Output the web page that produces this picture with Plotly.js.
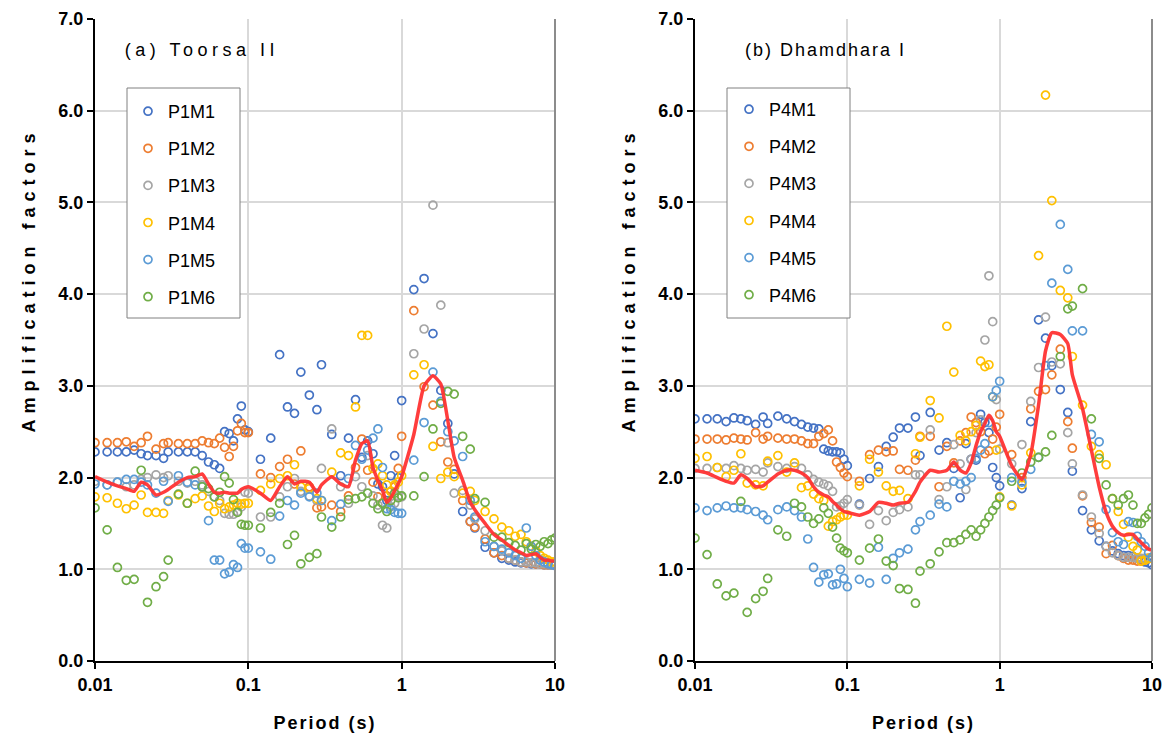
<!DOCTYPE html>
<html>
<head>
<meta charset="utf-8">
<script src="https://cdn.plot.ly/plotly-3.0.1.min.js"></script>
<style>
  html, body { margin: 0; padding: 0; background: #ffffff; }
  #chart { width: 1174px; height: 744px; }
</style>
</head>
<body>
<div id="chart"></div>
<script>
// ---------- data ----------
const periods = [
  0.01,0.012,0.014,0.016,0.018,0.02,0.022,0.025,0.028,0.03,0.035,0.04,0.045,0.05,0.055,0.06,0.065,0.07,0.075,0.08,0.085,0.09,0.095,
  0.1,0.12,0.14,0.16,0.18,0.2,0.22,0.25,0.28,0.3,0.35,0.4,0.45,0.5,0.55,0.6,0.65,0.7,0.75,0.8,0.85,0.9,0.95,
  1,1.2,1.4,1.6,1.8,2,2.2,2.5,2.8,3,3.5,4,4.5,5,5.5,6,6.5,7,7.5,8,8.5,9,9.5,10
];

// Panel (a) Toorsa II
const seriesNamesA = ["P1M1","P1M2","P1M3","P1M4","P1M5","P1M6"];
const P1M1 = [2.28,2.28,2.28,2.28,2.30,2.26,2.24,2.24,2.21,2.28,
              2.28,2.28,2.28,2.24,2.17,2.14,2.10,2.50,2.48,2.40,
              2.64,2.78,2.52,2.50,2.20,2.43,3.34,2.77,2.70,3.15,
              2.90,2.74,3.23,2.47,2.02,2.43,2.85,2.22,2.40,2.26,
              1.93,1.90,1.75,2.02,2.24,2.00,2.84,4.05,4.17,3.57,
              2.95,2.59,2.04,1.63,1.52,1.45,1.24,1.18,1.12,1.10,
              1.08,1.07,1.07,1.06,1.06,1.06,1.05,1.05,1.05,1.05];
const P1M2 = [2.38,2.38,2.38,2.39,2.34,2.38,2.45,2.31,2.37,2.38,
              2.37,2.37,2.37,2.40,2.38,2.37,2.43,2.33,2.23,2.34,
              2.51,2.59,2.49,2.49,2.04,2.00,2.12,2.20,1.93,2.29,
              1.90,1.67,1.68,1.70,1.63,1.80,2.11,2.42,2.08,1.95,
              1.79,1.72,1.80,1.85,1.90,2.10,2.45,3.82,2.99,2.79,
              2.39,2.17,2.09,1.75,1.52,1.46,1.33,1.18,1.15,1.12,
              1.10,1.08,1.07,1.07,1.06,1.06,1.05,1.05,1.05,1.05];
const P1M3 = [1.96,1.92,1.95,1.90,1.92,1.98,2.00,2.03,2.00,2.02,
              1.96,1.94,1.96,1.92,1.85,1.79,1.75,1.61,1.60,1.60,
              1.63,1.68,1.84,1.83,1.57,1.57,1.79,1.90,1.99,1.85,
              1.80,1.75,2.10,2.53,1.90,1.72,2.01,1.90,2.24,1.80,
              1.70,1.48,1.45,1.68,1.72,1.80,1.79,3.35,3.62,4.97,
              3.88,2.38,1.83,1.86,1.70,1.55,1.42,1.25,1.20,1.12,
              1.10,1.08,1.08,1.07,1.07,1.06,1.06,1.06,1.05,1.05];
const P1M4 = [1.79,1.78,1.72,1.66,1.70,1.81,1.62,1.62,1.61,1.75,
              1.81,1.72,1.77,1.80,1.69,1.63,1.72,1.66,1.68,1.70,
              1.72,1.71,1.72,1.72,1.86,1.93,1.99,2.02,2.14,1.90,
              1.88,1.77,1.75,2.06,2.27,2.24,2.77,3.55,3.55,2.10,
              2.15,2.02,1.92,1.85,1.92,1.95,2.02,3.12,3.23,2.34,
              1.99,2.06,2.01,1.83,1.85,1.75,1.63,1.55,1.46,1.42,
              1.36,1.38,1.30,1.25,1.20,1.15,1.12,1.10,1.08,1.08];
const P1M5 = [1.93,1.92,1.95,1.98,1.98,1.95,1.92,1.83,1.96,1.74,
              2.02,1.95,1.92,1.90,1.53,1.10,1.10,0.95,0.97,1.05,
              1.02,1.28,1.23,1.23,1.19,1.11,1.58,1.75,1.70,1.83,
              1.79,1.83,1.75,1.53,1.71,1.99,2.35,2.20,2.30,2.43,
              2.53,2.11,1.66,1.65,1.62,1.61,1.61,2.19,2.60,3.15,
              2.83,2.50,2.40,2.23,1.75,1.57,1.30,1.25,1.22,1.18,
              1.15,1.12,1.45,1.25,1.15,1.10,1.08,1.06,1.05,1.04];
const P1M6 = [1.67,1.43,1.02,0.88,0.89,2.08,0.64,0.81,0.92,1.10,
              1.82,1.72,2.07,1.90,1.88,1.79,1.84,2.01,1.94,1.76,
              1.62,1.49,1.48,1.48,1.45,1.62,1.72,1.27,1.37,1.06,
              1.13,1.17,1.57,1.46,1.57,1.76,1.77,1.79,1.83,1.72,
              1.66,1.72,1.63,1.75,1.83,1.78,1.80,1.80,2.01,2.53,
              2.81,2.94,2.91,2.45,2.31,1.77,1.73,1.35,1.35,1.29,
              1.26,1.21,1.28,1.22,1.27,1.25,1.30,1.28,1.32,1.34];
const meanA = [2.01,1.95,1.91,1.88,1.85,1.95,1.92,1.81,1.84,1.87,
               1.95,2.00,2.01,2.04,1.93,1.84,1.83,1.84,1.83,1.83,
               1.83,1.87,1.89,1.90,1.83,1.75,1.90,2.01,1.93,1.96,
               1.95,1.84,1.92,2.01,1.93,1.90,2.19,2.37,2.40,2.11,
               1.97,1.86,1.73,1.78,1.86,1.93,2.01,2.47,3.00,3.11,
               3.02,2.62,2.22,1.97,1.73,1.65,1.50,1.38,1.32,1.26,
               1.21,1.18,1.15,1.16,1.17,1.13,1.10,1.10,1.09,1.09];

// Panel (b) Dhamdhara I
const seriesNamesB = ["P4M1","P4M2","P4M3","P4M4","P4M5","P4M6"];
const P4M1 = [2.64,2.64,2.64,2.61,2.65,2.64,2.62,2.58,2.66,2.59,
              2.67,2.64,2.61,2.58,2.55,2.54,2.53,2.31,2.29,2.28,
              2.28,2.27,2.20,2.13,1.71,1.99,2.12,2.34,2.44,2.54,
              2.54,2.66,2.24,2.71,2.30,2.38,2.10,1.78,2.37,2.20,
              2.19,2.69,2.60,2.49,2.11,2.00,1.91,1.70,1.88,2.61,
              3.72,3.52,3.22,2.96,2.71,2.07,1.64,1.43,1.31,1.25,
              1.20,1.17,1.15,1.15,1.14,1.12,1.10,1.08,1.07,1.05];
const P4M2 = [2.42,2.42,2.42,2.41,2.43,2.42,2.41,2.49,2.42,2.45,
              2.43,2.42,2.42,2.40,2.37,2.37,2.45,2.48,2.52,2.40,
              2.17,2.11,2.05,2.01,1.96,2.25,2.30,2.28,2.29,2.09,
              2.08,2.19,2.45,2.45,1.90,2.34,2.16,2.40,2.49,2.66,
              2.60,2.50,2.26,2.29,2.42,2.55,2.69,2.25,2.00,2.75,
              2.94,2.96,3.12,3.40,2.61,2.32,1.80,1.51,1.46,1.17,
              1.26,1.15,1.12,1.10,1.10,1.09,1.09,1.10,1.12,1.13];
const P4M3 = [2.10,2.10,2.11,2.10,2.13,2.10,2.08,2.09,2.06,2.16,
              2.12,2.10,2.12,2.10,2.03,1.98,1.95,1.93,1.91,1.85,
              1.68,1.69,1.72,1.76,1.70,1.49,1.64,1.53,1.62,1.65,
              1.68,2.03,2.03,2.52,1.76,1.90,2.36,2.15,1.87,2.20,
              2.49,2.63,3.50,4.20,3.70,2.85,2.31,2.15,2.36,2.83,
              3.20,3.75,3.26,3.24,2.49,2.15,1.81,1.57,1.39,1.25,
              1.18,1.15,1.13,1.13,1.13,1.12,1.12,1.12,1.12,1.13];
const P4M4 = [2.21,2.23,2.11,2.01,2.08,2.26,1.94,1.92,1.91,2.18,
              2.24,2.06,2.16,1.89,1.91,1.82,1.77,1.75,1.47,1.52,
              1.54,1.57,1.59,1.59,1.91,2.20,2.06,1.91,1.85,1.86,
              1.77,2.26,2.44,2.84,2.65,3.65,3.15,2.46,2.40,2.50,
              2.57,3.27,3.21,3.23,2.88,2.30,1.79,1.69,1.92,2.27,
              4.42,6.17,5.02,4.04,3.96,3.32,2.79,2.34,2.25,2.14,
              1.77,1.63,1.49,1.35,1.25,1.21,1.09,1.10,1.12,1.12];
const P4M5 = [1.67,1.64,1.67,1.69,1.67,1.67,1.65,1.63,1.59,1.54,
              1.65,1.68,1.64,1.57,1.33,1.02,0.86,0.94,0.95,0.83,
              0.84,1.00,0.90,0.81,0.89,0.85,1.24,0.89,1.12,1.18,
              1.22,1.43,1.52,1.59,1.71,1.68,1.96,1.93,1.96,2.00,
              2.21,2.30,2.37,2.60,2.88,2.95,3.05,2.00,1.95,2.09,
              2.22,3.22,4.12,4.76,4.27,3.60,3.60,2.47,2.39,1.65,
              1.40,1.30,1.27,1.52,1.51,1.36,1.30,1.25,1.18,1.13];
const P4M6 = [1.34,1.16,0.84,0.71,0.74,1.74,0.53,0.68,0.76,0.90,
              1.43,1.36,1.72,1.68,1.57,1.50,1.55,1.67,1.61,1.46,
              1.34,1.23,1.20,1.18,1.10,1.23,1.33,1.09,1.04,0.79,
              0.78,0.63,0.98,1.06,1.19,1.29,1.29,1.32,1.38,1.43,
              1.36,1.43,1.50,1.57,1.64,1.70,1.78,1.96,2.05,2.17,
              2.22,2.28,2.46,3.32,3.84,3.87,4.06,2.64,2.21,1.92,
              1.77,1.70,1.77,1.81,1.70,1.50,1.50,1.56,1.60,1.67];
const meanB = [2.08,2.05,2.00,1.96,1.94,2.03,1.99,1.90,1.91,1.95,
               2.04,2.08,2.08,2.05,2.00,1.90,1.84,1.81,1.79,1.74,
               1.70,1.66,1.63,1.62,1.59,1.63,1.73,1.72,1.70,1.72,
               1.73,1.85,1.95,2.08,2.06,2.08,2.17,2.08,2.05,2.16,
               2.35,2.50,2.59,2.68,2.62,2.50,2.45,2.13,1.98,2.25,
               2.79,3.38,3.58,3.56,3.46,3.12,2.75,2.30,1.90,1.62,
               1.47,1.40,1.37,1.38,1.38,1.33,1.29,1.25,1.22,1.21];

const seriesColors = ["#4472C4","#ED7D31","#A5A5A5","#FFC000","#5B9BD5","#70AD47"];
const meanColor = "#FF3333";
const xTickVals = [0.01, 0.1, 1, 10];
const xTickText = ["0.01", "0.1", "1", "10"];
const panelTitles = ["(a) Toorsa II", "(b) Dhamdhara I"];
const xTitle = "Period (s)";
const yTitle = "Amplification factors";

// ---------- traces ----------
const FONT = "Liberation Sans, Arial, Helvetica, sans-serif";
const seriesA = [P1M1, P1M2, P1M3, P1M4, P1M5, P1M6];
const seriesB = [P4M1, P4M2, P4M3, P4M4, P4M5, P4M6];

function scatterTraces(names, values, xa, ya, legendId) {
  return names.map((nm, i) => ({
    type: "scatter", mode: "markers", name: nm,
    x: periods, y: values[i], xaxis: xa, yaxis: ya,
    legend: legendId, legendgroup: legendId + "_" + i,
    marker: { symbol: "circle-open", size: 8, color: seriesColors[i], line: { width: 1.7 } },
    hoverinfo: "x+y+name"
  }));
}
function meanTrace(vals, xa, ya) {
  return {
    type: "scatter", mode: "lines", name: "Mean", showlegend: false,
    x: periods, y: vals, xaxis: xa, yaxis: ya,
    line: { color: meanColor, width: 3.5, shape: "spline", smoothing: 0.5 },
    opacity: 0.95
  };
}

const data = []
  .concat(scatterTraces(seriesNamesA, seriesA, "x", "y", "legend"))
  .concat(scatterTraces(seriesNamesB, seriesB, "x2", "y2", "legend2"))
  .concat([meanTrace(meanA, "x", "y"), meanTrace(meanB, "x2", "y2")]);

// ---------- layout ----------
const W = 1174, H = 744;
const mL = 95, mR = 22, mT = 19, mB = 83;
const plotW = W - mL - mR, plotH = H - mT - mB;
const px2x = (px) => (px - mL) / plotW;
const py2y = (py) => (H - mB - py) / plotH;
const tickFont = { family: FONT, size: 18, color: "#000000", weight: "bold" };
const titleFont = { family: FONT, size: 18, color: "#000000", weight: "bold" };

function xAxisCfg(domain, anchor) {
  return {
    domain: domain, anchor: anchor, type: "log", range: [-2, 1],
    tickmode: "array", tickvals: xTickVals, ticktext: xTickText,
    showgrid: true, gridcolor: "#d9d9d9", gridwidth: 2,
    showline: true, linecolor: "#000000", linewidth: 2,
    ticks: "outside", ticklen: 6, tickwidth: 2, tickcolor: "#000000",
    tickfont: tickFont, zeroline: false, automargin: false,
    title: { text: xTitle, font: titleFont, standoff: 23 }
  };
}
function yAxisCfg(anchor) {
  return {
    anchor: anchor, domain: [0, 1], range: [0, 7], tick0: 0, dtick: 1, tickformat: ".1f",
    showgrid: true, gridcolor: "#d9d9d9", gridwidth: 2,
    showline: true, linecolor: "#000000", linewidth: 2,
    ticks: "outside", ticklen: 6, tickwidth: 2, tickcolor: "#000000",
    tickfont: tickFont, zeroline: false, automargin: false,
    title: { text: yTitle, font: titleFont, standoff: 18 }
  };
}
const legendBase = {
  xref: "paper", yref: "paper", xanchor: "left", yanchor: "top",
  bgcolor: "rgba(0,0,0,0)", borderwidth: 0,
  font: { family: FONT, size: 18, color: "#000000" },
  tracegroupgap: 10.7, itemclick: false, itemdoubleclick: false
};

const domA = [0, px2x(555)];
const domB = [px2x(695), 1];

const layout = {
  width: W, height: H,
  margin: { l: mL, r: mR, t: mT, b: mB, pad: 0 },
  paper_bgcolor: "#ffffff", plot_bgcolor: "#ffffff",
  font: { family: FONT, size: 18, color: "#000000" },
  showlegend: true,
  xaxis: xAxisCfg(domA, "y"),
  yaxis: yAxisCfg("x"),
  xaxis2: xAxisCfg(domB, "y2"),
  yaxis2: yAxisCfg("x2"),
  legend: Object.assign({}, legendBase, { x: px2x(128), y: py2y(93) }),
  legend2: Object.assign({}, legendBase, { x: px2x(729), y: py2y(91) }),
  shapes: [
    { type: "line", xref: "x domain", yref: "y domain", x0: 1, x1: 1, y0: 0, y1: 1,
      line: { color: "#8c8c8c", width: 2 }, layer: "above" },
    { type: "line", xref: "x2 domain", yref: "y2 domain", x0: 1, x1: 1, y0: 0, y1: 1,
      line: { color: "#8c8c8c", width: 2 }, layer: "above" },
    { type: "rect", xref: "paper", yref: "paper",
      x0: px2x(127), x1: px2x(240), y0: py2y(318), y1: py2y(88),
      fillcolor: "#ffffff", line: { color: "#808080", width: 1 }, layer: "above" },
    { type: "rect", xref: "paper", yref: "paper",
      x0: px2x(727), x1: px2x(850), y0: py2y(318), y1: py2y(88),
      fillcolor: "#ffffff", line: { color: "#808080", width: 1 }, layer: "above" }
  ],
  annotations: [
    { xref: "paper", yref: "paper", x: px2x(202), y: py2y(50),
      xanchor: "center", yanchor: "middle", showarrow: false, text: panelTitles[0],
      font: { family: FONT, size: 18, color: "#000000" } },
    { xref: "paper", yref: "paper", x: px2x(825), y: py2y(50),
      xanchor: "center", yanchor: "middle", showarrow: false, text: panelTitles[1],
      font: { family: FONT, size: 18, color: "#000000" } }
  ]
};

const annotationSpacing = ["4.5px", "2px"];

Plotly.newPlot("chart", data, layout, { displayModeBar: false, responsive: false }).then(function (gd) {
  // character spacing of the titles, as in the reference
  gd.querySelectorAll(".g-ytitle text, .g-y2title text").forEach(function (t) {
    t.style.letterSpacing = "6px";
    t.setAttribute("x", parseFloat(t.getAttribute("x")) + 60);
  });
  gd.querySelectorAll(".g-xtitle text, .g-x2title text").forEach(function (t) {
    t.style.letterSpacing = "2px";
  });
  gd.querySelectorAll(".annotation-text").forEach(function (t, i) {
    t.style.letterSpacing = annotationSpacing[i] || "3px";
  });
});
</script>
</body>
</html>
